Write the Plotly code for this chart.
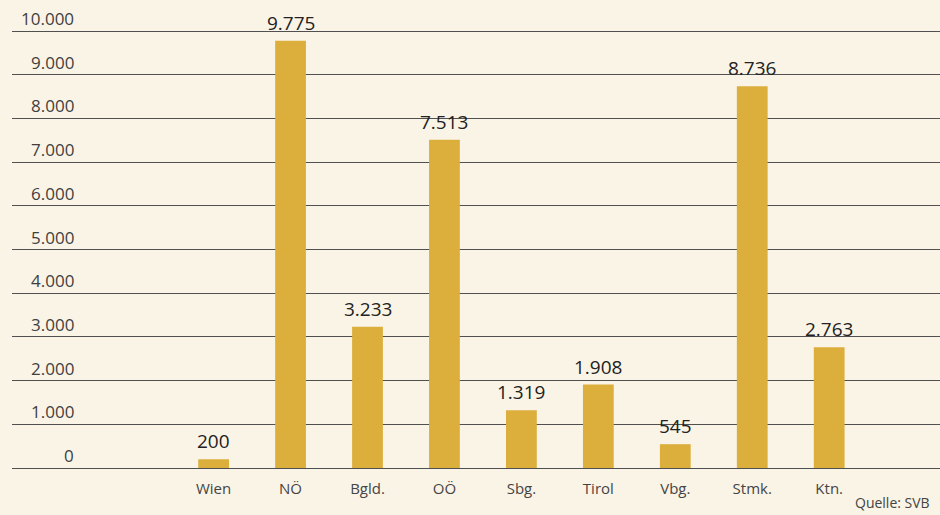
import plotly.graph_objects as go

categories = ["Wien", "NÖ", "Bgld.", "OÖ", "Sbg.", "Tirol", "Vbg.", "Stmk.", "Ktn."]
values = [200, 9775, 3233, 7513, 1319, 1908, 545, 8736, 2763]
y_ticks = [0, 1000, 2000, 3000, 4000, 5000, 6000, 7000, 8000, 9000, 10000]
y_tick_labels = ["0", "1.000", "2.000", "3.000", "4.000", "5.000", "6.000",
                 "7.000", "8.000", "9.000", "10.000"]
source = "Quelle: SVB"

BG = "#faf4e7"
BAR = "#dcae3c"
TXT = "#333333"
FONT = "Open Sans"

xs = list(range(len(categories)))
labels = [f"{v:,}".replace(",", ".") for v in values]

fig = go.Figure()
fig.add_trace(go.Bar(
    x=xs, y=values,
    marker_color=BAR, marker_line_width=0,
    width=0.40,
    hoverinfo="skip",
))

W, H = 940, 515
ml, mr, mt, mb = 12, 0, 20, 43
pw = W - ml - mr

annotations = []
for xv, v, lab in zip(xs, values, labels):
    annotations.append(dict(
        x=xv, xref="x", y=v, yref="y",
        text=lab, showarrow=False, xanchor="center", yanchor="bottom",
        yshift=3, font=dict(size=19, color="#222222", family=FONT),
    ))
for v, lab in zip(y_ticks, y_tick_labels):
    annotations.append(dict(
        x=(76 - ml) / pw, xref="paper", y=v, yref="y",
        text=lab, showarrow=False, xanchor="right", yanchor="bottom",
        yshift=-1, font=dict(size=17, color="#3f3f3f", family=FONT),
    ))
annotations.append(dict(
    x=1, xref="paper", y=0, yref="paper", yshift=-mb + 1, xshift=-8,
    text=source, showarrow=False, xanchor="right", yanchor="bottom",
    font=dict(size=14, color="#444444", family=FONT),
))

fig.update_layout(
    width=W, height=H,
    margin=dict(l=ml, r=mr, t=mt, b=mb, pad=0),
    paper_bgcolor=BG, plot_bgcolor=BG,
    showlegend=False,
    separators=",.",
    font=dict(family=FONT, color=TXT),
    annotations=annotations,
    xaxis=dict(
        range=[-2.62, 9.44],
        tickmode="array",
        tickvals=xs,
        ticktext=categories,
        showgrid=False, zeroline=False, showline=False,
        ticks="", ticklabelstandoff=6,
        tickfont=dict(size=15, color="#444444", family=FONT),
        fixedrange=True,
    ),
    yaxis=dict(
        range=[-91.5, 10252],
        tickmode="array", tickvals=y_ticks,
        showticklabels=False,
        showgrid=True, gridcolor="#505050", gridwidth=1.4,
        zeroline=True, zerolinecolor="#505050", zerolinewidth=1.4,
        showline=False, fixedrange=True,
    ),
)

fig.write_html(
    "out.html",
    config={"displayModeBar": False},
    post_script="document.body.style.margin='0';document.body.style.background='%s';" % BG,
)
